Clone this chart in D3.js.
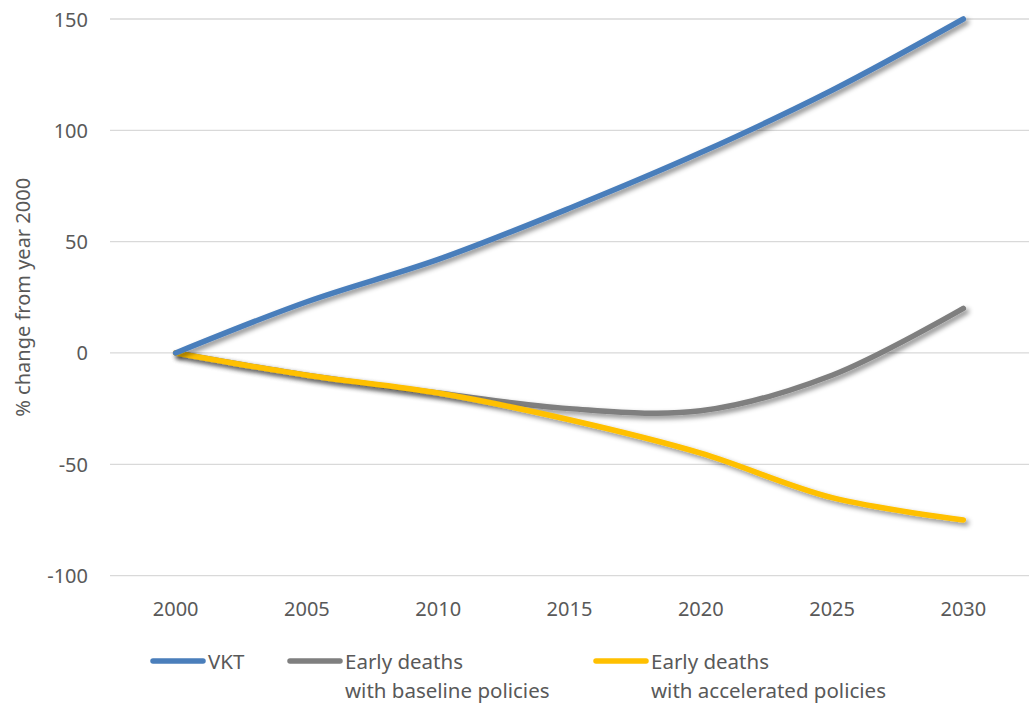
<!DOCTYPE html>
<html>
<head>
<meta charset="utf-8">
<script src="https://cdn.jsdelivr.net/npm/d3@7"></script>
<style>
  body { margin: 0; background: #fff; }
  text { font-family: "Noto Sans", "Open Sans", sans-serif; fill: #595959; }
</style>
</head>
<body>
<div id="chart"></div>
<script>
const years = ["2000", "2005", "2010", "2015", "2020", "2025", "2030"];
const vkt = [0, 23, 42, 65, 90, 118, 150];
const baseline = [0, -10, -18, -25, -26, -10, 20];
const accelerated = [0, -10, -18, -30, -45, -65, -75];
const yTicks = [-100, -50, 0, 50, 100, 150];

const width = 1029, height = 703;
const margin = ({top: 19, right: 0, bottom: 127, left: 110});

const svg = d3.select("#chart")
  .append("svg")
  .attr("width", width)
  .attr("height", height);

const defs = svg.append("defs");
const f = defs.append("filter").attr("id", "shadow")
  .attr("x", "-10%").attr("y", "-10%").attr("width", "120%").attr("height", "130%");
f.append("feDropShadow")
  .attr("dx", 3).attr("dy", 3).attr("stdDeviation", 2.5)
  .attr("flood-color", "#000").attr("flood-opacity", 0.45);

let x = d3.scaleBand()
  .domain(years)
  .range([margin.left, width - margin.right]);

let y = d3.scaleLinear()
  .domain([-100, 150])
  .range([height - margin.bottom - 0.4, margin.top]);

// gridlines
svg.append("g")
  .selectAll("line")
  .data(yTicks)
  .join("line")
  .attr("x1", margin.left)
  .attr("x2", width - margin.right)
  .attr("y1", d => y(d))
  .attr("y2", d => y(d))
  .attr("stroke", "#d9d9d9")
  .attr("stroke-width", 1.3);

// y labels
svg.append("g")
  .selectAll("text")
  .data(yTicks)
  .join("text")
  .attr("x", 88)
  .attr("y", d => y(d))
  .attr("text-anchor", "end")
  .attr("dominant-baseline", "central")
  .attr("font-size", 20)
  .text(d => d);

// x labels
svg.append("g")
  .selectAll("text")
  .data(years)
  .join("text")
  .attr("x", d => x(d) + x.bandwidth() / 2)
  .attr("y", 608)
  .attr("text-anchor", "middle")
  .attr("dominant-baseline", "central")
  .attr("font-size", 20)
  .text(d => d);

svg.append("text")
  .attr("transform", "translate(22," + y(25) + ") rotate(-90)")
  .attr("text-anchor", "middle")
  .attr("dominant-baseline", "central")
  .attr("font-size", 20)
  .text("% change from year 2000");

const series = [
  {name: "Early deaths with accelerated policies", values: accelerated, color: "#FFC000"},
  {name: "Early deaths with baseline policies", values: baseline, color: "#7F7F7F"},
  {name: "VKT", values: vkt, color: "#4A7EBB"}
];

let line = d3.line()
  .x((d, i) => x(years[i]) + x.bandwidth() / 2)
  .y(d => y(d))
  .curve(d3.curveCatmullRom.alpha(0.5));

let g = svg.append("g").attr("class", "data");

for (let s of [series[1], series[0], series[2]]) {
  g.append("path")
    .datum(s.values)
    .attr("fill", "none")
    .attr("stroke", s.color)
    .attr("stroke-width", 5.5)
    .attr("stroke-linecap", "round")
    .attr("stroke-linejoin", "round")
    .attr("filter", "url(#shadow)")
    .attr("d", line);
}

// legend
const legend = [
  {lines: ["VKT"], color: "#4A7EBB", x: 150},
  {lines: ["Early deaths", "with baseline policies"], color: "#7F7F7F", x: 287},
  {lines: ["Early deaths", "with accelerated policies"], color: "#FFC000", x: 593}
];

let lg = svg.append("g");
for (let l of legend) {
  lg.append("line")
    .attr("x1", l.x + 3).attr("x2", l.x + 53)
    .attr("y1", 661).attr("y2", 661)
    .attr("stroke", l.color)
    .attr("stroke-width", 5.5)
    .attr("stroke-linecap", "round");
  l.lines.forEach((t, i) => {
    lg.append("text")
      .attr("x", l.x + 58)
      .attr("y", 661 + i * 29)
      .attr("dominant-baseline", "central")
      .attr("font-size", 20.5)
      .text(t);
  });
}
</script>
</body>
</html>
